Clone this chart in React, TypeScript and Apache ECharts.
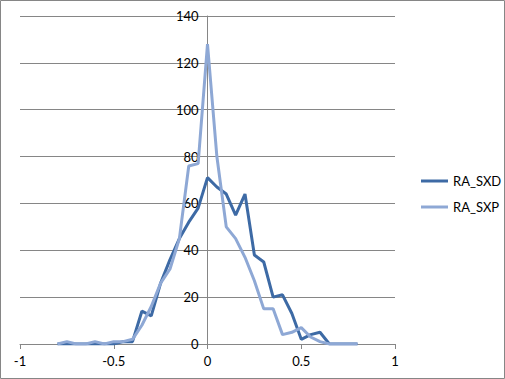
import React, { useEffect, useRef } from "react";
import * as echarts from "echarts";

const xValues = [
  -0.8, -0.75, -0.7, -0.65, -0.6, -0.55, -0.5, -0.45, -0.4, -0.35, -0.3, -0.25,
  -0.2, -0.15, -0.1, -0.05, 0, 0.05, 0.1, 0.15, 0.2, 0.25, 0.3, 0.35, 0.4, 0.45,
  0.5, 0.55, 0.6, 0.65, 0.7, 0.75, 0.8,
];
const sxdValues = [
  0, 0, 0, 0, 0, 0, 0, 1, 1, 14, 12, 26, 36, 45, 52, 58, 71, 67, 64, 55, 64, 38,
  35, 20, 21, 13, 2, 4, 5, 0, 0, 0, 0,
];
const sxpValues = [
  0, 1, 0, 0, 1, 0, 1, 1, 2, 8, 16, 26, 32, 45, 76, 77, 128, 80, 50, 45, 37, 27,
  15, 15, 4, 5, 7, 3, 1, 0, 0, 0, 0,
];
const seriesNames = ["RA_SXD", "RA_SXP"];
const seriesColors = ["#3D6AA5", "#8EA8D5"];

export default function App() {
  const ref = useRef<HTMLDivElement>(null);
  useEffect(() => {
    if (!ref.current) return;
    const chart = echarts.init(ref.current, null, { renderer: "svg" });
    const font = "Lato, 'Open Sans', sans-serif";
    const mk = (vals: number[]) => xValues.map((x, i) => [x, vals[i]]);
    chart.setOption({
      animation: false,
      backgroundColor: "#ffffff",
      textStyle: { fontFamily: font },
      graphic: [
        {
          type: "rect",
          shape: { x: 0.5, y: 0.5, width: 504, height: 378 },
          style: { fill: "none", stroke: "#868686", lineWidth: 1 },
          silent: true,
        },
      ],
      grid: { left: 20, right: 110, top: 16, bottom: 35, containLabel: false, outerBoundsMode: "none" },
      legend: {
        orient: "vertical",
        left: 416,
        top: 169,
        icon: "rect",
        itemWidth: 27,
        itemHeight: 3,
        itemGap: 12,
        textStyle: { fontSize: 13, color: "#000", fontFamily: font, lineHeight: 14 },
        data: seriesNames,
      },
      xAxis: {
        type: "value",
        min: -1,
        max: 1,
        interval: 0.5,
        axisLine: { onZero: false, lineStyle: { color: "#868686", width: 1 } },
        axisTick: { show: true, length: 5, inside: false, lineStyle: { color: "#868686" } },
        axisLabel: { fontSize: 13, color: "#000", margin: 10, fontFamily: font },
        splitLine: { show: false },
      },
      yAxis: {
        type: "value",
        position: "left",
        offset: -187.5,
        min: 0,
        max: 140,
        interval: 20,
        axisLine: { show: true, onZero: false, lineStyle: { color: "#868686", width: 1 } },
        axisTick: { show: true, length: 5, inside: false, lineStyle: { color: "#868686" } },
        axisLabel: { fontSize: 13, color: "#000", margin: 9, fontFamily: font },
        splitLine: { show: true, lineStyle: { color: "#868686", width: 1 } },
      },
      series: [
        {
          name: seriesNames[0],
          type: "line",
          data: mk(sxdValues),
          showSymbol: false,
          symbol: "none",
          lineStyle: { color: seriesColors[0], width: 3 },
          itemStyle: { color: seriesColors[0] },
        },
        {
          name: seriesNames[1],
          type: "line",
          data: mk(sxpValues),
          showSymbol: false,
          symbol: "none",
          lineStyle: { color: seriesColors[1], width: 3 },
          itemStyle: { color: seriesColors[1] },
        },
      ],
    });
    return () => chart.dispose();
  }, []);
  return (
    <div
      ref={ref}
      style={{ position: "fixed", left: 0, top: 0, width: 505, height: 379 }}
    />
  );
}
